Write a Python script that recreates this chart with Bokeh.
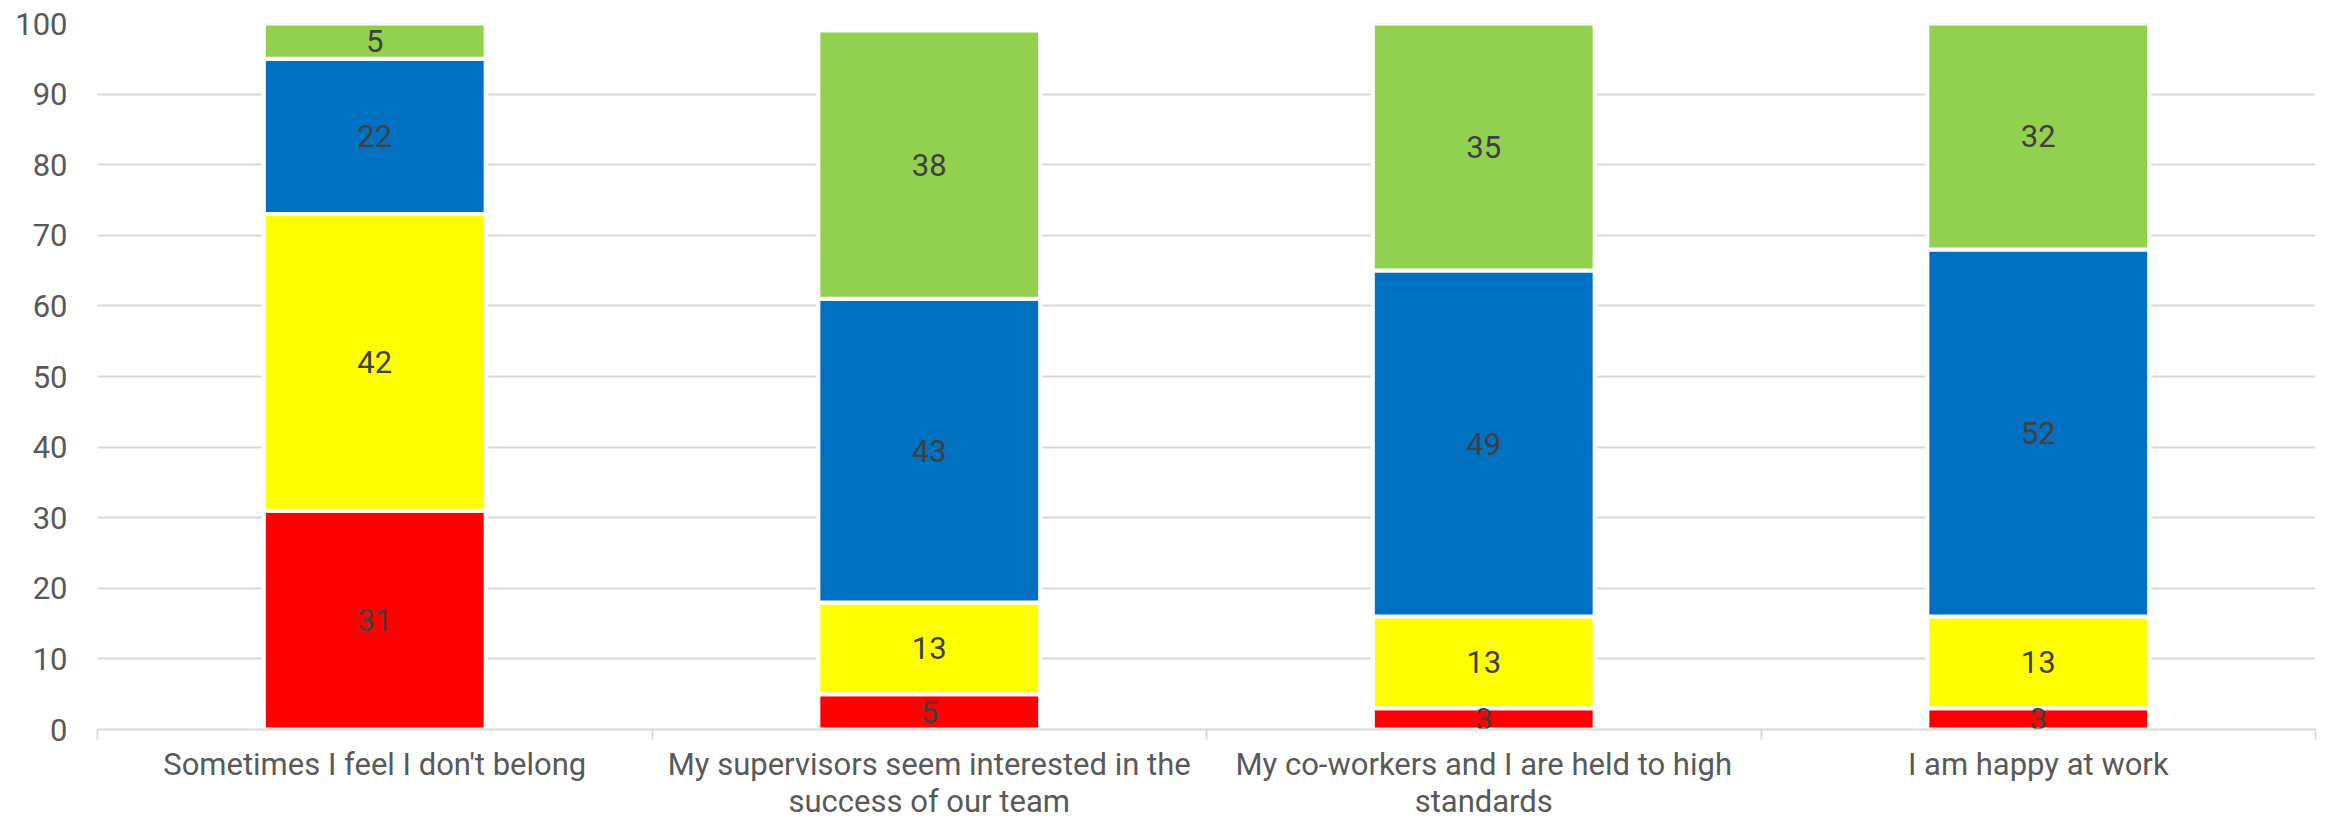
from bokeh.plotting import figure
from bokeh.models import ColumnDataSource, FixedTicker, Range1d
from bokeh.core.properties import value
from bokeh.embed import file_html
from bokeh.resources import INLINE

categories = [
    "Sometimes I feel I don't belong",
    "My supervisors seem interested in the\nsuccess of our team",
    "My co-workers and I are held to high\nstandards",
    "I am happy at work",
]
series_names = ["strongly_disagree", "disagree", "agree", "strongly_agree"]
strongly_disagree = [31, 5, 3, 3]
disagree = [42, 13, 13, 13]
agree = [22, 43, 49, 52]
strongly_agree = [5, 38, 35, 32]
colors = ["#FF0000", "#FFFF00", "#0070C0", "#92D050"]
y_ticks = list(range(0, 101, 10))

FONT = "Roboto"
xs = [i + 0.5 for i in range(len(categories))]

data = dict(x=xs, strongly_disagree=strongly_disagree, disagree=disagree,
            agree=agree, strongly_agree=strongly_agree)
source = ColumnDataSource(data)

p = figure(width=2328, height=822, output_backend="svg", toolbar_location=None,
           x_range=Range1d(0, len(categories)), y_range=Range1d(0, 100),
           min_border_left=97, min_border_right=13, min_border_top=23,
           min_border_bottom=92)
p.outline_line_color = None
p.background_fill_color = "white"
p.border_fill_color = "white"

p.vbar_stack(series_names, x="x", width=0.4, color=colors, source=source,
             line_color="white", line_width=4)

# data labels
lx, ly, lt = [], [], []
series = [strongly_disagree, disagree, agree, strongly_agree]
for i in range(len(categories)):
    base = 0
    for s in series:
        v = s[i]
        lx.append(xs[i])
        ly.append(base + v / 2)
        lt.append(str(v))
        base += v
p.text(x=lx, y=ly, text=lt, text_align="center", text_baseline="middle",
       text_font=value(FONT), text_font_size="31px", text_color="#404040")

# y axis
p.yaxis.ticker = FixedTicker(ticks=y_ticks)
p.yaxis.axis_line_color = None
p.yaxis.major_tick_line_color = None
p.yaxis.minor_tick_line_color = None
p.yaxis.major_tick_out = 0
p.yaxis.major_tick_in = 0
p.yaxis.major_label_standoff = 30
p.yaxis.major_label_text_font = FONT
p.yaxis.major_label_text_font_size = "31px"
p.yaxis.major_label_text_color = "#595959"

# x axis
p.xaxis.ticker = FixedTicker(ticks=xs, minor_ticks=list(range(len(categories) + 1)))
p.xaxis.major_label_overrides = {x: c for x, c in zip(xs, categories)}
p.xaxis.axis_line_color = "#D9D9D9"
p.xaxis.axis_line_width = 2
p.xaxis.major_tick_line_color = None
p.xaxis.major_tick_out = 0
p.xaxis.major_tick_in = 0
p.xaxis.minor_tick_line_color = "#D9D9D9"
p.xaxis.minor_tick_line_width = 2
p.xaxis.minor_tick_out = 10
p.xaxis.minor_tick_in = 0
p.xaxis.major_label_standoff = 6
p.xaxis.major_label_text_font = FONT
p.xaxis.major_label_text_font_size = "31px"
p.xaxis.major_label_text_color = "#595959"
p.xaxis.major_label_text_line_height = 1.0

p.xgrid.grid_line_color = None
p.ygrid.ticker = FixedTicker(ticks=y_ticks)
p.ygrid.grid_line_color = "#D9D9D9"
p.ygrid.grid_line_width = 2

open("out.html", "w").write(file_html(p, INLINE))
